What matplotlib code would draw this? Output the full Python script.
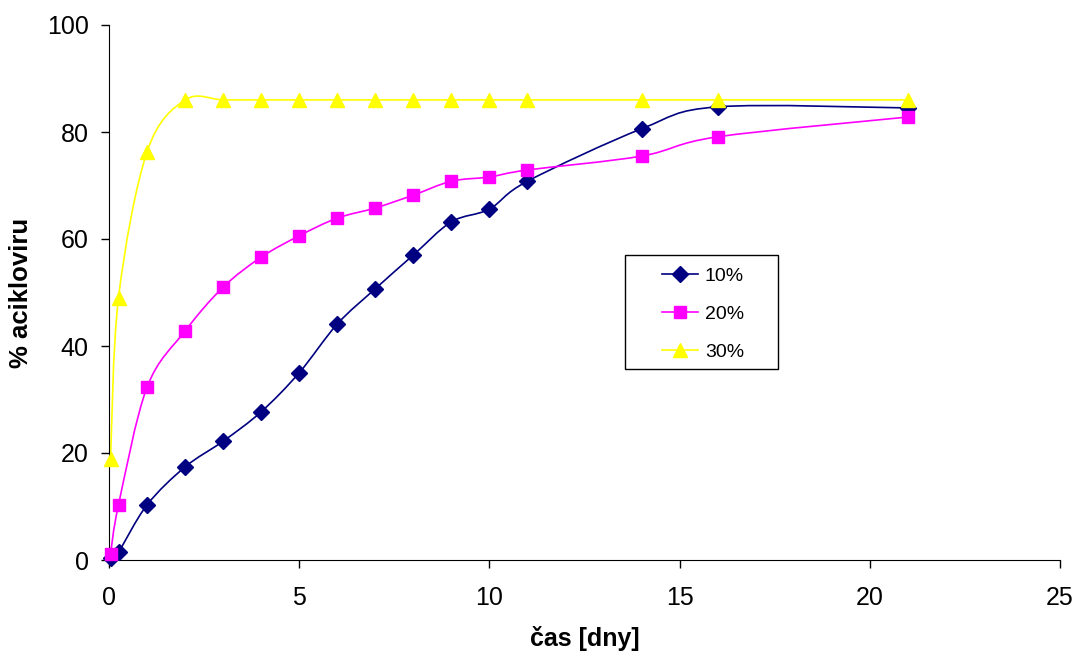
import matplotlib
matplotlib.use("Agg")
import matplotlib.pyplot as plt
from matplotlib.path import Path
from matplotlib.patches import PathPatch, Rectangle
from matplotlib.lines import Line2D

plt.rcParams['font.family'] = ['Liberation Sans', 'DejaVu Sans']

days_10 = [0.04, 0.25, 1, 2, 3, 4, 5, 6, 7, 8, 9, 10, 11, 14, 16, 21]
vals_10 = [0.4, 1.5, 10.3, 17.4, 22.2, 27.7, 35.0, 44.1, 50.7, 57.0, 63.2, 65.6, 70.8, 80.6, 84.7, 84.5]

days_20 = [0.04, 0.25, 1, 2, 3, 4, 5, 6, 7, 8, 9, 10, 11, 14, 16, 21]
vals_20 = [1.1, 10.3, 32.3, 42.8, 51.0, 56.6, 60.6, 63.9, 65.8, 68.2, 70.8, 71.6, 72.9, 75.5, 79.1, 82.8]

days_30 = [0.04, 0.25, 1, 2, 3, 4, 5, 6, 7, 8, 9, 10, 11, 14, 16, 21]
vals_30 = [18.9, 49.0, 76.3, 86.0, 86.0, 86.0, 86.0, 86.0, 86.0, 86.0, 86.0, 86.0, 86.0, 86.0, 86.0, 86.0]

series = [
    ("10%", days_10, vals_10, "#000080", "D", 8.5),
    ("20%", days_20, vals_20, "#FF00FF", "s", 8.5),
    ("30%", days_30, vals_30, "#FFFF00", "^", 10),
]

x_ticks = [0, 5, 10, 15, 20, 25]
y_ticks = [0, 20, 40, 60, 80, 100]


def smooth_path(xs, ys):
    # Excel-style smoothed line: cubic Bezier segments with Catmull-Rom control points
    pts = list(zip(xs, ys))
    n = len(pts)
    verts = [pts[0]]
    codes = [Path.MOVETO]
    for i in range(n - 1):
        p0 = pts[i - 1] if i > 0 else pts[i]
        p1 = pts[i]
        p2 = pts[i + 1]
        p3 = pts[i + 2] if i + 2 < n else pts[i + 1]
        c1 = (p1[0] + (p2[0] - p0[0]) / 6, p1[1] + (p2[1] - p0[1]) / 6)
        c2 = (p2[0] - (p3[0] - p1[0]) / 6, p2[1] - (p3[1] - p1[1]) / 6)
        verts += [c1, c2, p2]
        codes += [Path.CURVE4] * 3
    return Path(verts, codes)


fig = plt.figure(figsize=(10.79, 6.56), dpi=100)
ax = fig.add_axes([109 / 1079, (656 - 560) / 656, 951 / 1079, 535 / 656])

handles = []
for label, xs, ys, color, marker, ms in series:
    patch = PathPatch(smooth_path(xs, ys), facecolor='none', edgecolor=color, lw=1.2, zorder=2)
    ax.add_patch(patch)
    ax.plot(xs, ys, linestyle='none', marker=marker, markersize=ms, color=color,
            markeredgecolor=color, zorder=3, clip_on=False)
    handles.append(Line2D([], [], color=color, lw=1.2, marker=marker, markersize=ms,
                          markeredgecolor=color, label=label))

ax.set_xlim(0, 25)
ax.set_ylim(0, 100)
ax.set_xticks(x_ticks)
ax.set_yticks(y_ticks)
ax.spines['top'].set_visible(False)
ax.spines['right'].set_visible(False)
ax.tick_params(axis='both', direction='out', length=6, width=1, labelsize=18)
ax.tick_params(axis='x', pad=13)
ax.tick_params(axis='y', pad=8.5)
ax.set_xlabel("čas [dny]", fontsize=18, fontweight='bold', labelpad=11)
ax.set_ylabel("% acikloviru", fontsize=18.5, fontweight='bold', labelpad=10)

# legend frame
ax.add_patch(Rectangle((0.543, 0.357), 0.160, 0.213, transform=ax.transAxes,
                       facecolor='white', edgecolor='black', lw=1.0, zorder=4))
leg = ax.legend(handles=handles, loc='center left', bbox_to_anchor=(0.5815, 0.46),
                fontsize=14, frameon=False, borderpad=0, labelspacing=1.05,
                handlelength=1.85, handletextpad=0.35, borderaxespad=0)
leg.set_zorder(5)

fig.savefig("out.png", dpi=100)
